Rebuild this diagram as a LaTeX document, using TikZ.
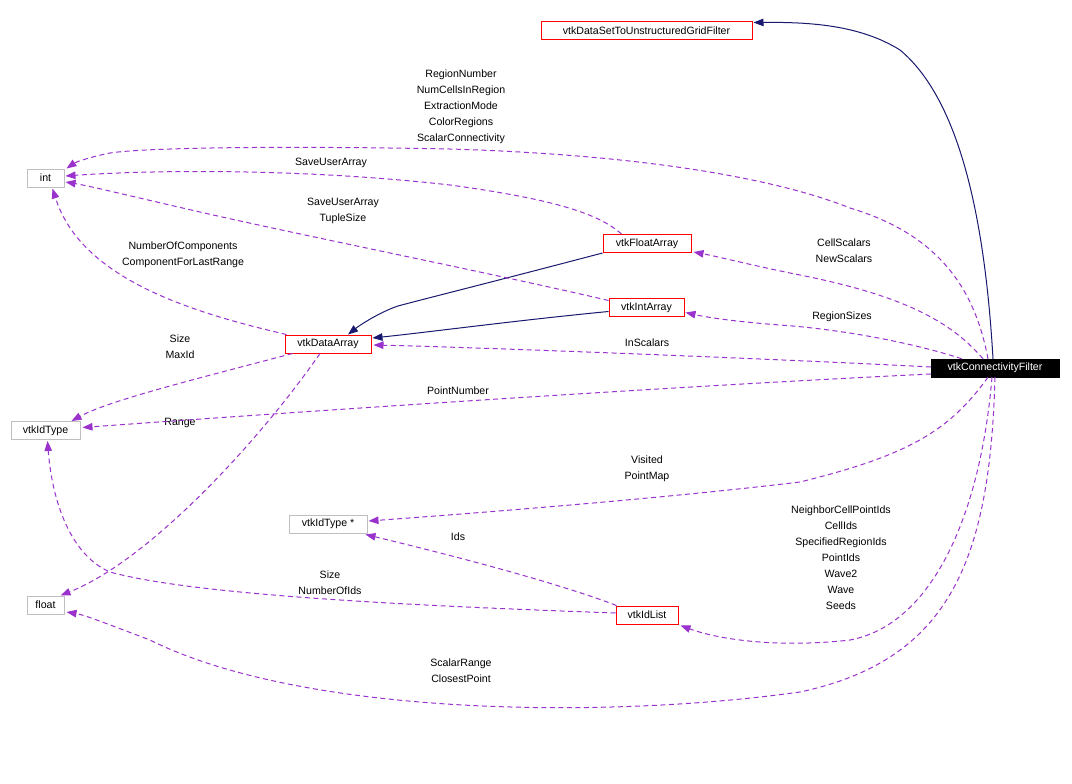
\documentclass[tikz,border=0pt]{standalone}
\usepackage{fontspec}
\setmainfont{Liberation Sans}
\usetikzlibrary{arrows.meta,calc}
\definecolor{usecol}{HTML}{9A32CD}
\definecolor{inhcol}{HTML}{191970}
\definecolor{boxred}{HTML}{FF0000}
\definecolor{boxgray}{HTML}{BFBFBF}
\begin{document}
\begin{tikzpicture}[x=1pt,y=-1pt,
  every node/.style={font=\fontsize{10.6}{16}\selectfont},
  cls/.style={draw=boxred,line width=1pt,minimum height=18pt,inner sep=0pt},
  ext/.style={draw=boxgray,line width=1pt,minimum height=18pt,inner sep=0pt},
  lbl/.style={align=center,inner sep=0pt},
  use/.style={draw=usecol,line width=1pt,dash pattern=on 5pt off 3.5pt,-{Triangle[length=10pt,width=7.5pt,fill=usecol]}},
  inh/.style={draw=inhcol,line width=1pt,-{Triangle[length=10pt,width=7.5pt,fill=inhcol]}}]
\useasboundingbox[fill=white] (0,0) rectangle (1072,784);
% nodes
\node[cls,minimum width=211pt] (dstug) at (646.5,30.5) {vtkDataSetToUnstructuredGridFilter};
\node[ext,minimum width=37pt] (int) at (45.5,178) {int};
\node[cls,minimum width=88pt] (floatarr) at (647,243.5) {vtkFloatArray};
\node[cls,minimum width=75pt] (intarr) at (646.5,307.5) {vtkIntArray};
\node[cls,minimum width=86pt] (dataarr) at (328,344) {vtkDataArray};
\node[draw=black,fill=black,text=white,minimum width=128pt,minimum height=18pt,inner sep=0pt] (filter) at (995,368) {vtkConnectivityFilter};
\node[ext,minimum width=69pt] (idtype) at (45.5,430.5) {vtkIdType};
\node[ext,minimum width=78pt] (idtypeptr) at (328,524) {vtkIdType *};
\node[ext,minimum width=37pt] (floatn) at (45.5,605) {float};
\node[cls,minimum width=62pt] (idlist) at (647,615) {vtkIdList};
% labels
\node[lbl] (l1) at (461,107) {RegionNumber\\NumCellsInRegion\\ExtractionMode\\ColorRegions\\ScalarConnectivity};
\node[lbl] (l2) at (331,163) {SaveUserArray};
\node[lbl] (l3) at (343,211) {SaveUserArray\\TupleSize};
\node[lbl] (l4) at (183,255) {NumberOfComponents\\ComponentForLastRange};
\node[lbl] (l5) at (844,251) {CellScalars\\NewScalars};
\node[lbl] (l6) at (842,317) {RegionSizes};
\node[lbl] (l7) at (647,343) {InScalars};
\node[lbl] (l8) at (180,347) {Size\\MaxId};
\node[lbl] (l9) at (458,391) {PointNumber};
\node[lbl] (l10) at (180,423) {Range};
\node[lbl] (l11) at (647,469) {Visited\\PointMap};
\node[lbl] (l12) at (458,537) {Ids};
\node[lbl] (l13) at (330,583) {Size\\NumberOfIds};
\node[lbl] (l14) at (841,558) {NeighborCellPointIds\\CellIds\\SpecifiedRegionIds\\PointIds\\Wave2\\Wave\\Seeds};
\node[lbl] (l15) at (461,671) {ScalarRange\\ClosestPoint};
% inheritance
\draw[inh] ($(filter.north)+(-2,0)$) .. controls (985,220) and (960,100) .. (900,50) .. controls (860,25) and (810,22) .. ($(dstug.east)+(1,-8)$);
\draw[inh] (floatarr.south west) .. controls (500,280) and (420,300) .. (398,306) .. controls (380,312) and (360,325) .. ($(dataarr.north)+(20,0)$);
\draw[inh] ($(intarr.west)+(0,4)$) .. controls (520,320) and (430,332) .. ($(dataarr.east)+(1,-6)$);
% usage
\draw[use] ($(filter.north)+(-7,0)$) .. controls (975,290) and (940,235) .. (850,208) .. controls (780,180) and (650,155) .. (450,149) .. controls (300,146) and (150,147) .. (110,153) .. controls (90,157) and (76,162) .. ($(int.north east)+(2,0)$);
\draw[use] ($(floatarr.north west)+(19,0)$) .. controls (600,215) and (560,200) .. (450,185) .. controls (300,168) and (150,170) .. ($(int.east)+(1,-2)$);
\draw[use] ($(intarr.west)+(0,-7)$) .. controls (500,275) and (300,235) .. (200,212) .. controls (130,196) and (90,186) .. ($(int.east)+(1,4)$);
\draw[use] ($(dataarr.north west)+(2,0)$) .. controls (180,310) and (80,275) .. ($(int.south)+(7,1)$);
\draw[use] ($(filter.north)+(-12,0)$) .. controls (950,320) and (900,295) .. (800,275) .. controls (750,265) and (720,257) .. ($(floatarr.south east)+(2,-1)$);
\draw[use] ($(filter.north west)+(31,0)$) .. controls (920,345) and (850,330) .. (780,325) .. controls (740,322) and (710,318) .. ($(intarr.east)+(1,5)$);
\draw[use] ($(filter.west)+(0,-1)$) .. controls (800,360) and (500,348) .. ($(dataarr.east)+(2,1)$);
\draw[use] ($(dataarr.south west)+(8,0)$) .. controls (200,378) and (110,400) .. ($(idtype.north east)+(-9,0)$);
\draw[use] ($(dataarr.south)+(-8,0)$) .. controls (260,440) and (150,560) .. ($(floatn.north)+(15,0)$);
\draw[use] ($(filter.west)+(0,6)$) .. controls (700,385) and (350,408) .. ($(idtype.east)+(2,-3)$);
\draw[use] ($(filter.south)+(-7,0)$) .. controls (950,430) and (910,455) .. (800,482) .. controls (650,500) and (450,515) .. ($(idtypeptr.east)+(1,-3)$);
\draw[use] ($(idlist.north west)+(1,0)$) .. controls (550,580) and (430,550) .. ($(idtypeptr.south east)+(-2,1)$);
\draw[use] ($(idlist.west)+(0,-2)$) .. controls (450,607) and (200,597) .. (110,572) .. controls (70,555) and (52,500) .. ($(idtype.south)+(2,1)$);
\draw[use] ($(filter.south)+(-3,0)$) .. controls (980,520) and (930,625) .. (850,640) .. controls (780,648) and (720,640) .. ($(idlist.south east)+(2,1)$);
\draw[use] (filter.south) .. controls (990,560) and (950,660) .. (800,692) .. controls (600,720) and (300,715) .. (150,640) .. controls (110,625) and (85,615) .. ($(floatn.east)+(2,7)$);
\end{tikzpicture}
\end{document}
